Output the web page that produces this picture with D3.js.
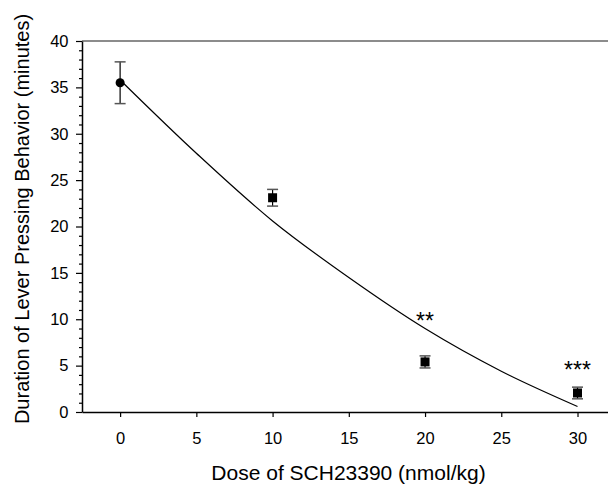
<!DOCTYPE html>
<html>
<head>
<meta charset="utf-8">
<script src="https://cdn.jsdelivr.net/npm/d3@7"></script>
<style>
  body { margin: 0; background: #fff; }
  text { font-family: "Liberation Sans", Arial, sans-serif; fill: #000; }
</style>
</head>
<body>
<div id="container"></div>
<script>
var width = 608,
    height = 485,
    margin = { left: 82, top: 41, right: 0, bottom: 73 },
    gWidth = width - margin.left - margin.right,
    gHeight = height - margin.top - margin.bottom;

// measured doses and means with error (SEM)
var doses = [0, 10, 20, 30];
var means = [35.5, 23.1, 5.4, 2.05];
var sems = [2.25, 0.9, 0.65, 0.63];
var shapes = ['circle', 'square', 'square', 'square'];
// significance marks and the value at which they sit
var stars = ['', '', '**', '***'];
var starY = [0, 0, 8.9, 3.7];
// fitted curve
var fitX = [0, 5, 10, 15, 20, 25, 30];
var fitY = [35.8, 27.9, 20.6, 14.5, 9.0, 4.4, 0.6];
var xTicks = [0, 5, 10, 15, 20, 25, 30];
var yTicks = [0, 5, 10, 15, 20, 25, 30, 35, 40];

var svg = d3.select('#container')
    .append('svg')
    .attr('width', width)
    .attr('height', height);
var g = svg.append('g')
    .attr('transform', 'translate(' + margin.left + ',' + margin.top + ')');

var scaleX = d3.scaleLinear()
    .domain([-2.5, 32])
    .range([0, gWidth]);
var scaleY = d3.scaleLinear()
    .domain([0, 40])
    .range([gHeight, 0]);

// top frame line
g.append('line')
    .attr('x1', 0).attr('x2', gWidth)
    .attr('y1', 0).attr('y2', 0)
    .attr('stroke', '#666')
    .attr('stroke-width', 1.5);

// x axis
var xAxis = d3.axisBottom(scaleX)
    .tickValues(xTicks)
    .tickSize(5)
    .tickSizeOuter(0)
    .tickPadding(15);
var gx = g.append('g')
    .attr('transform', 'translate(0,' + gHeight + ')')
    .call(xAxis);
gx.selectAll('text').style('font-size', '16.5px').attr('font-family', null);

// y axis (major + minor)
var yMinor = d3.axisLeft(scaleY)
    .tickValues(d3.range(0, 41).filter(function(d) { return d % 5 !== 0; }))
    .tickSize(3)
    .tickSizeOuter(0)
    .tickFormat('');
g.append('g').call(yMinor).select('.domain').remove();

var yAxis = d3.axisLeft(scaleY)
    .tickValues(yTicks)
    .tickSize(6)
    .tickSizeOuter(0)
    .tickPadding(7.5);
var gy = g.append('g').call(yAxis);
gy.selectAll('text').style('font-size', '16.5px').attr('font-family', null);

g.selectAll('.domain').attr('stroke-width', 1.5);
g.selectAll('.tick line').attr('stroke-width', 1.2);

// fit curve
var line = d3.line()
    .x(function(d, i) { return scaleX(fitX[i]); })
    .y(function(d) { return scaleY(d); })
    .curve(d3.curveCatmullRom);
g.append('path')
    .attr('d', line(fitY))
    .attr('fill', 'none')
    .attr('stroke', '#000')
    .attr('stroke-width', 1.2);

// error bars
var capW = 5.5;
var eb = g.selectAll('.err')
    .data(doses)
    .enter().append('g')
    .attr('class', 'err');
eb.append('line')
    .attr('x1', function(d) { return scaleX(d); })
    .attr('x2', function(d) { return scaleX(d); })
    .attr('y1', function(d, i) { return scaleY(means[i] + sems[i]); })
    .attr('y2', function(d, i) { return scaleY(means[i] - sems[i]); })
    .attr('stroke', '#000')
    .attr('stroke-width', 1.2);
[1, -1].forEach(function(s) {
    eb.append('line')
        .attr('x1', function(d) { return scaleX(d) - capW; })
        .attr('x2', function(d) { return scaleX(d) + capW; })
        .attr('y1', function(d, i) { return scaleY(means[i] + s * sems[i]); })
        .attr('y2', function(d, i) { return scaleY(means[i] + s * sems[i]); })
        .attr('stroke', '#555')
        .attr('stroke-width', 1.5);
});

// markers
var sym = { circle: d3.symbolCircle, square: d3.symbolSquare };
g.selectAll('.pt')
    .data(doses)
    .enter().append('path')
    .attr('class', 'pt')
    .attr('transform', function(d, i) {
        return 'translate(' + scaleX(d) + ',' + scaleY(means[i]) + ')';
    })
    .attr('d', function(d, i) {
        return d3.symbol().type(sym[shapes[i]]).size(shapes[i] === 'circle' ? 64 : 81)();
    })
    .attr('fill', '#000');

// significance stars
g.selectAll('.star')
    .data(doses)
    .enter().append('text')
    .attr('class', 'star')
    .attr('x', function(d) { return scaleX(d); })
    .attr('y', function(d, i) { return scaleY(starY[i]); })
    .attr('text-anchor', 'middle')
    .style('font-size', '23px')
    .text(function(d, i) { return stars[i]; });

// axis titles
svg.append('text')
    .attr('x', 348.5)
    .attr('y', 480)
    .attr('text-anchor', 'middle')
    .style('font-size', '21px')
    .text('Dose of SCH23390 (nmol/kg)');
svg.append('text')
    .attr('transform', 'translate(29,219) rotate(-90)')
    .attr('text-anchor', 'middle')
    .style('font-size', '20px')
    .text('Duration of Lever Pressing Behavior (minutes)');
</script>
</body>
</html>
